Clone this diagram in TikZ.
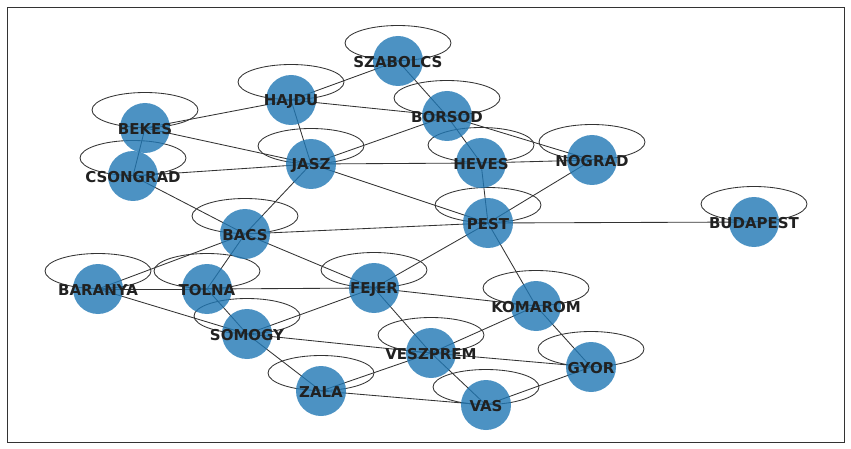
\documentclass[tikz,border=0pt]{standalone}
\usepackage{fontspec}
\usepackage{tikz}
\usetikzlibrary{backgrounds}
\newfontfamily\dejavu{DejaVu Sans}
\definecolor{countyblue}{HTML}{1F77B4}
\tikzset{
	county/.style={circle, minimum size=50pt, inner sep=0pt, fill=countyblue, fill opacity=0.8, draw=none},
	cname/.style={font=\dejavu\bfseries\fontsize{15}{17}\selectfont, text=black!87, inner sep=0pt, yshift=-1.5pt},
	link/.style={line width=0.85pt, color=black!80},
}

\begin{document}
\begin{tikzpicture}[x=1pt, y=-1pt]
		%%%%% START %%%%%
		
		\useasboundingbox (0, 0) rectangle (851, 449);
		\draw[line width=1pt, color=black!80] (7.5, 7.5) rectangle (844, 442);
		
		% counties
		\foreach \n/\x/\y in {szabolcs/398/61, hajdu/291/100, bekes/145/128, csongrad/133/176,
			jasz/311/164, borsod/447/116, heves/481/163, nograd/592/160, pest/488/223,
			budapest/754/222, bacs/245/234, baranya/98/289, tolna/207/289, fejer/374/288,
			somogy/247/334, zala/321/391, veszprem/431/353, komarom/536/306, gyor/591/367, vas/486/405}
			\node[county] (\n) at (\x, \y) {};
		
		\foreach \n/\t in {szabolcs/SZABOLCS, hajdu/HAJDU, bekes/BEKES, csongrad/CSONGRAD,
			jasz/JASZ, borsod/BORSOD, heves/HEVES, nograd/NOGRAD, pest/PEST,
			budapest/BUDAPEST, bacs/BACS, baranya/BARANYA, tolna/TOLNA, fejer/FEJER,
			somogy/SOMOGY, zala/ZALA, veszprem/VESZPREM, komarom/KOMAROM, gyor/GYOR, vas/VAS}
			\node[cname] at (\n) {\t};
		
		\begin{pgfonlayer}{background}
			% neighbours
			\foreach \a/\b in {budapest/pest, pest/nograd, pest/heves, pest/jasz, pest/bacs,
				pest/fejer, pest/komarom, borsod/heves, borsod/nograd, borsod/szabolcs,
				borsod/hajdu, borsod/jasz, szabolcs/hajdu, hajdu/jasz, hajdu/bekes,
				bekes/jasz, bekes/csongrad, csongrad/jasz, csongrad/bacs, jasz/heves,
				jasz/bacs, heves/nograd, bacs/baranya, bacs/tolna, bacs/fejer,
				baranya/tolna, baranya/somogy, tolna/fejer, tolna/somogy, fejer/somogy,
				fejer/veszprem, fejer/komarom, somogy/veszprem, somogy/zala, veszprem/zala,
				veszprem/vas, veszprem/gyor, veszprem/komarom, komarom/gyor, gyor/vas, vas/zala}
				\draw[link] (\a.center) -- (\b.center);
			
			% self loops
			\foreach \n in {szabolcs, hajdu, bekes, csongrad, jasz, borsod, heves, nograd, pest,
				budapest, bacs, baranya, tolna, fejer, somogy, zala, veszprem, komarom, gyor, vas}
				\draw[link] ([yshift=18pt]\n.center) ellipse (53pt and 17.5pt);
		\end{pgfonlayer}
		
		%%%%% END %%%%%
\end{tikzpicture}
\end{document}
